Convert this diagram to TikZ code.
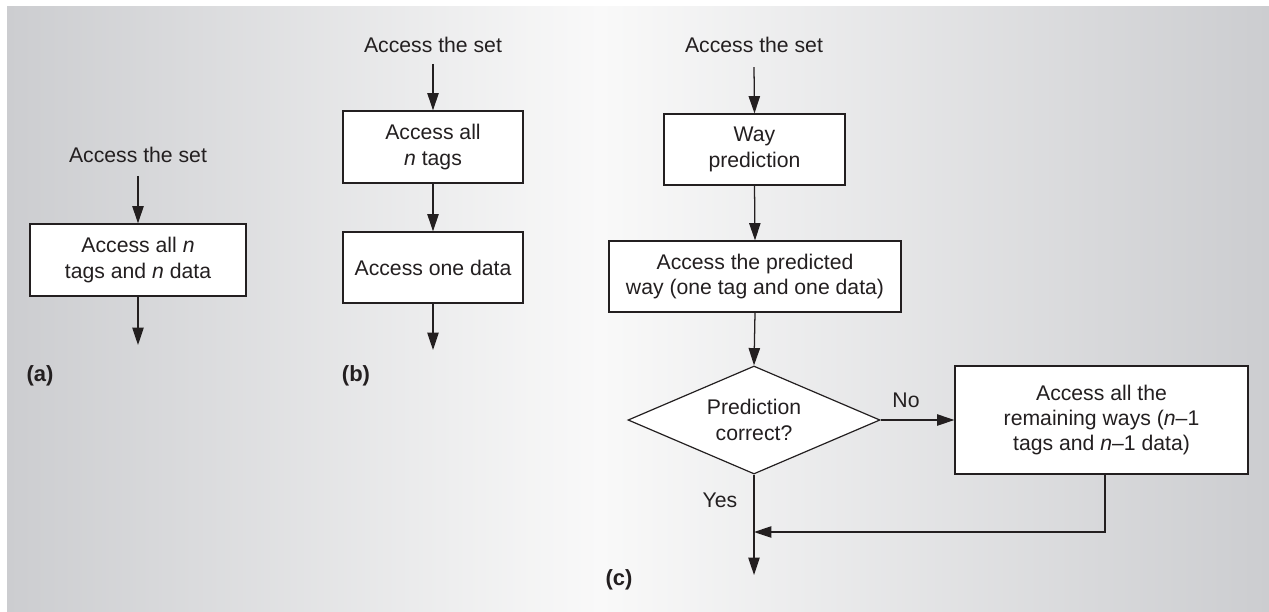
\documentclass[tikz,border=0pt]{standalone}
\usepackage{fontspec}
\setmainfont{Liberation Sans}
\usetikzlibrary{arrows.meta,shapes.geometric}

\definecolor{bgside}{RGB}{204,205,208}
\definecolor{bgmid}{RGB}{249,249,249}
\definecolor{ink}{RGB}{35,31,32}

\begin{document}
\begin{tikzpicture}[x=0.75pt,y=-0.75pt,
  font=\fontsize{15.9}{19}\selectfont,
  txt/.style={text=ink, inner sep=0pt},
  stepbox/.style={draw=ink, line width=0.9pt, fill=white, align=center, text=ink, inner sep=2pt},
  decision/.style={diamond, draw=ink, line width=0.9pt, fill=white, align=center, text=ink, inner sep=0pt, aspect=2.3},
  arr/.style={draw=ink, line width=0.95pt, -{Triangle[length=13pt,width=8.5pt]}},
  tag/.style={text=ink, inner sep=0pt, font=\fontsize{16.5}{19}\selectfont\bfseries}
]
% canvas and background
\useasboundingbox (0,0) rectangle (1269,611);
\fill[white] (0,0) rectangle (1269,611);
\shade[left color=bgside, right color=bgmid] (7,6) rectangle (600,611);
\shade[left color=bgmid, right color=bgside] (599.5,6) rectangle (1269,611);

% (a) single access of all tags and data
\node[txt, anchor=base] (seta) at (138,162) {Access the set};
\node[stepbox, minimum width=162pt, minimum height=54pt] (alla) at (138,260)
  {Access all \textit{n}\\tags and \textit{n} data};
\coordinate (enda) at (138,345);
\draw[arr] ([yshift=-10pt]seta.south) -- (alla.north);
\draw[arr] (alla.south) -- (enda);
\node[tag] (capa) at (40,376) {(a)};

% (b) tags first, then one data
\node[txt, anchor=base] (setb) at (433,52) {Access the set};
\node[stepbox, minimum width=135pt, minimum height=54pt] (tagsb) at (433,147)
  {Access all\\\textit{n} tags};
\node[stepbox, minimum width=135pt, minimum height=53.25pt] (datab) at (433,267.5)
  {Access one data};
\coordinate (endb) at (433,350);
\draw[arr] ([yshift=-8.5pt]setb.south) -- (tagsb.north);
\draw[arr] (tagsb.south) -- (datab.north);
\draw[arr] (datab.south) -- (endb);
\node[tag] (capb) at (356,376) {(b)};

% (c) way prediction
\node[txt, anchor=base] (setc) at (754,52) {Access the set};
\node[stepbox, minimum width=135.75pt, minimum height=53.25pt] (pred) at (754.5,149.5)
  {Way\\prediction};
\node[stepbox, minimum width=219pt, minimum height=53.25pt] (oneway) at (755,276.5)
  {Access the predicted\\way (one tag and one data)};
\node[decision, minimum width=189pt, minimum height=81pt] (ok) at (754,420)
  {Prediction\\correct?};
\node[stepbox, minimum width=219.75pt, minimum height=81pt] (rest) at (1101.5,420)
  {Access all the\\remaining ways (\textit{n}–1\\tags and \textit{n}–1 data)};
\coordinate (join) at (754,532);
\coordinate (endc) at (754,575);

\draw[arr] ([yshift=-11pt]setc.south) -- (pred.north);
\draw[arr] (pred.south) -- (oneway.north);
\draw[arr] (oneway.south) -- (ok.north);
\draw[arr] (ok.east) -- (rest.west);
\draw[arr] (ok.south) -- (endc);
\draw[arr] ([xshift=2.6pt]rest.south) |- (join);

\node[txt] (nolbl) at (906,400) {No};
\node[txt] (yeslbl) at (720,500) {Yes};
\node[tag] (capc) at (619,580) {(c)};
\end{tikzpicture}
\end{document}
